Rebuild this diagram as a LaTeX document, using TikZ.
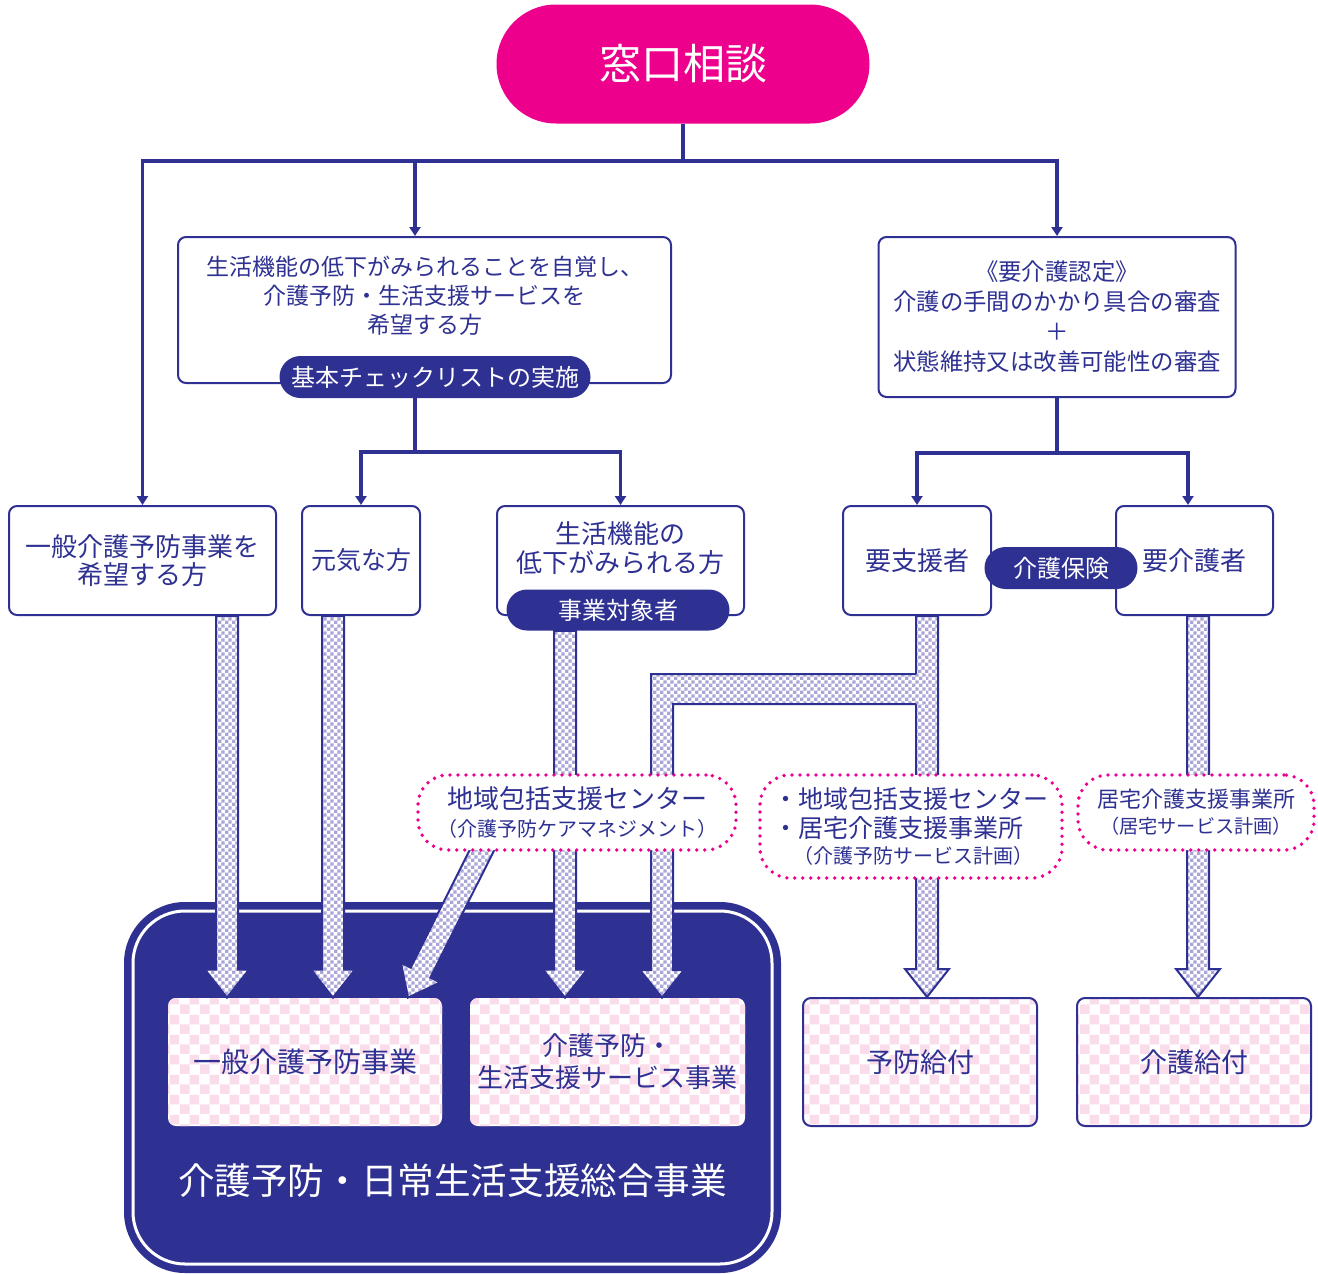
\documentclass[tikz,border=0pt]{standalone}
\usepackage{fontspec}
\setmainfont{Noto Sans CJK JP}
\usetikzlibrary{arrows.meta,calc,patterns,shapes.misc}

\definecolor{navy}{RGB}{46,49,146}
\definecolor{madopink}{RGB}{236,0,140}
\definecolor{checkblue}{RGB}{170,165,215}
\definecolor{checkpink}{RGB}{251,220,234}

\pgfdeclarepatternformonly{finecheck}{\pgfpointorigin}{\pgfqpoint{3.4pt}{3.4pt}}{\pgfqpoint{3.4pt}{3.4pt}}{%
  \pgfpathrectangle{\pgfpointorigin}{\pgfqpoint{1.7pt}{1.7pt}}%
  \pgfpathrectangle{\pgfqpoint{1.7pt}{1.7pt}}{\pgfqpoint{1.7pt}{1.7pt}}%
  \pgfusepath{fill}}
\pgfdeclarepatternformonly{widecheck}{\pgfpointorigin}{\pgfqpoint{10pt}{10pt}}{\pgfqpoint{10pt}{10pt}}{%
  \pgfpathrectangle{\pgfpointorigin}{\pgfqpoint{5pt}{5pt}}%
  \pgfpathrectangle{\pgfqpoint{5pt}{5pt}}{\pgfqpoint{5pt}{5pt}}%
  \pgfusepath{fill}}

\newcommand\fatarrow[2]{%
  \coordinate (fatbase) at ($(#2)!14pt!(#1)$);
  \draw[fatbody] ($(#1)!5.5pt!90:(#2)$) -- ($(fatbase)!5.5pt!90:(#2)$) -- ($(fatbase)!11pt!90:(#2)$) -- (#2)
    -- ($(fatbase)!11pt!-90:(#2)$) -- ($(fatbase)!5.5pt!-90:(#2)$) -- ($(#1)!5.5pt!-90:(#2)$) -- cycle;}

\tikzset{
  panel/.style={draw=navy, line width=1pt, rounded corners=4pt, fill=white, text=navy, align=center},
  pill/.style={rounded rectangle, fill=navy, text=white, inner sep=0pt, font=\fontsize{12pt}{14pt}\selectfont},
  conn/.style={draw=navy, line width=1.6pt},
  arr/.style={conn, -{Triangle[width=5.5pt,length=4.5pt]}},
  bubble/.style={draw=madopink, line width=1.9pt, dash pattern=on 0pt off 4pt, line cap=round, rounded corners=15pt, fill=white, text=navy},
  paybox/.style={preaction={fill=white}, pattern=widecheck, pattern color=checkpink, rounded corners=4pt, text=navy, align=center},
  fatfill/.style={preaction={fill=white}, pattern=finecheck, pattern color=checkblue},
  fatbody/.style={fatfill, draw=navy, line width=1pt},
}

\begin{document}
\begin{tikzpicture}[x=0.5pt, y=-0.5pt]
    \useasboundingbox (0,0) rectangle (1318,1274);

    \node[pill, fill=madopink, minimum width=186.5pt, minimum height=59.5pt, font=\fontsize{21pt}{24pt}\selectfont] (madoguchi) at (683,64) {窓口相談};

    \node[panel, minimum width=246.5pt, minimum height=73pt, text depth=15.5pt, font=\fontsize{11.5pt}{14.5pt}\selectfont] (seikatsu) at (424.5,310)
      {生活機能の低下がみられることを自覚し、\\介護予防・生活支援サービスを\\希望する方};
    \node[pill, minimum width=155.5pt, minimum height=21pt] (kihon) at (435,377) {基本チェックリストの実施};

    \node[panel, minimum width=178.5pt, minimum height=80pt, font=\fontsize{11.7pt}{15pt}\selectfont] (nintei) at (1057,317)
      {《要介護認定》\\介護の手間のかかり具合の審査\\＋\\状態維持又は改善可能性の審査};

    \node[panel, minimum width=133.5pt, minimum height=54.5pt, font=\fontsize{13pt}{14pt}\selectfont] (ippan) at (142.5,560.5) {一般介護予防事業を\\希望する方};
    \node[panel, minimum width=59pt, minimum height=54.5pt, font=\fontsize{12.5pt}{14pt}\selectfont] (genki) at (361,560.5) {元気な方};
    \node[panel, minimum width=123.5pt, minimum height=54.5pt, text depth=13.5pt, font=\fontsize{13pt}{14.5pt}\selectfont] (taisho) at (620.5,560.5) {生活機能の\\低下がみられる方};
    \node[pill, minimum width=111.5pt, minimum height=20.5pt] (jigyo) at (618,610) {事業対象者};
    \node[panel, minimum width=74pt, minimum height=54.5pt, font=\fontsize{13pt}{14pt}\selectfont] (yoshien) at (917,560.5) {要支援者};
    \node[panel, minimum width=78.5pt, minimum height=54.5pt, font=\fontsize{13pt}{14pt}\selectfont] (yokaigo) at (1194.5,560.5) {要介護者};
    \node[pill, minimum width=76.5pt, minimum height=21pt] (hoken) at (1061,568) {介護保険};

    \coordinate (bus) at (683,161);
    \coordinate (busA) at (415,452);
    \coordinate (busB) at (1057,453);
    \draw[conn] (madoguchi.south) -- (bus);
    \draw[arr] (bus) -| (ippan.north);
    \draw[arr] (bus) -| (nintei.north);
    \draw[arr] (415,0 |- bus) -- (415,0 |- seikatsu.north);
    \draw[conn] (415,0 |- kihon.south) -- (busA);
    \draw[arr] (busA) -| (genki.north);
    \draw[arr] (busA) -| (taisho.north);
    \draw[conn] (nintei.south) -- (busB);
    \draw[arr] (busB) -| (yoshien.north);
    \draw[arr] (busB) -| (1188,0 |- yokaigo.north);

    \node[draw=navy, fill=navy, line width=1pt, rounded corners=30pt, minimum width=327.5pt, minimum height=184.5pt] (sogo) at (452.5,1087.5) {};
    \draw[white, line width=1.5pt, rounded corners=26pt] ($(sogo.north west)+(9,9)$) rectangle ($(sogo.south east)+(-9,-9)$);
    \node[text=white, font=\fontsize{18.3pt}{20pt}\selectfont] (sogotitle) at ($(sogo.south)+(0,-92)$) {介護予防・日常生活支援総合事業};

    \node[paybox, minimum width=137pt, minimum height=64pt, font=\fontsize{14pt}{16pt}\selectfont] (ippanjigyo) at (305,1062) {一般介護予防事業};
    \node[paybox, minimum width=137.5pt, minimum height=64pt, font=\fontsize{13pt}{16pt}\selectfont] (sabisu) at (607.5,1062) {介護予防・\\生活支援サービス事業};
    \node[paybox, draw=navy, line width=1pt, minimum width=117pt, minimum height=64pt, font=\fontsize{13.5pt}{16pt}\selectfont] (yobo) at (920,1062) {予防給付};
    \node[paybox, draw=navy, line width=1pt, minimum width=117pt, minimum height=64pt, font=\fontsize{13.5pt}{16pt}\selectfont] (kaigo) at (1194,1062) {介護給付};

    \coordinate (f1s) at (227,0 |- ippan.south);   \coordinate (f1e) at (227,0 |- ippanjigyo.north);
    \coordinate (f2s) at (333,0 |- genki.south);   \coordinate (f2e) at (333,0 |- ippanjigyo.north);
    \coordinate (f3s) at (487,840);                \coordinate (f3e) at (408,0 |- ippanjigyo.north);
    \coordinate (f4s) at (565,0 |- jigyo.south);   \coordinate (f4e) at (565,0 |- sabisu.north);
    \coordinate (f6s) at (927,0 |- yoshien.south); \coordinate (f6e) at (927,0 |- yobo.north);
    \coordinate (f7s) at (1198,0 |- yokaigo.south); \coordinate (f7e) at (1198,0 |- kaigo.north);
    \fatarrow{f1s}{f1e}
    \fatarrow{f2s}{f2e}
    \fatarrow{f3s}{f3e}
    \fatarrow{f4s}{f4e}
    \fatarrow{f6s}{f6e}
    \fatarrow{f7s}{f7e}
    \path[fatfill] (927,674) -- (651,674) -- (651,970) -- (640,970) -- (662,0 |- sabisu.north) -- (684,970) -- (673,970) -- (673,704) -- (927,704) -- cycle;
    \draw[navy, line width=1pt] (916,674) -- (651,674) -- (651,970) -- (640,970) -- (662,0 |- sabisu.north) -- (684,970) -- (673,970) -- (673,704) -- (916,704);

    \node[bubble, minimum width=159pt, minimum height=37.5pt, align=center, font=\fontsize{13pt}{14pt}\selectfont] (chiiki) at (577,812.5)
      {地域包括支援センター\\{\fontsize{10pt}{12pt}\selectfont（介護予防ケアマネジメント）}};
    \node[bubble, minimum width=151pt, minimum height=51.5pt, align=left, font=\fontsize{12.5pt}{14.5pt}\selectfont] (keikaku) at (911,826.5)
      {・地域包括支援センター\\・居宅介護支援事業所\\[-1.5pt]\hspace*{10pt}{\fontsize{10pt}{12pt}\selectfont（介護予防サービス計画）}};
    \node[bubble, minimum width=118pt, minimum height=37.5pt, align=center, font=\fontsize{11pt}{13pt}\selectfont] (kyotaku) at (1196,812.5)
      {居宅介護支援事業所\\{\fontsize{9.6pt}{11pt}\selectfont（居宅サービス計画）}};
\end{tikzpicture}
\end{document}
